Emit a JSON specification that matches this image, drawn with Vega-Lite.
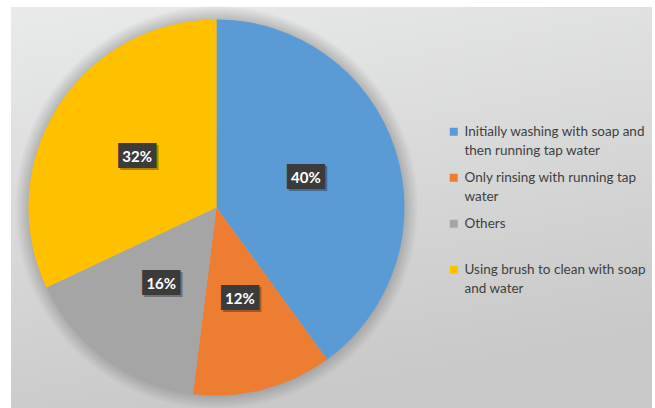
{
  "$schema": "https://vega.github.io/schema/vega-lite/v6.json",
  "width": 655,
  "height": 408,
  "autosize": {"type": "fit", "contains": "padding"},
  "padding": {"left": 11, "top": 7, "right": 3, "bottom": 0},
  "background": "white",
  "config": {
    "view": {"stroke": "#6f6f6f", "strokeWidth": 1.5},
    "style": {"guide-label": {"lineHeight": 19}}
  },
  "datasets": {
    "shares": [
      {"method": "Initially washing with soap and then running tap water", "share": 0.40},
      {"method": "Only rinsing with running tap water", "share": 0.12},
      {"method": "Others", "share": 0.16},
      {"method": "Using brush to clean with soap and water", "share": 0.32}
    ]
  },
  "layer": [
    {
      "data": {"values": [{"bg": 1}]},
      "mark": {
        "type": "rect",
        "fill": {"gradient": "linear", "x1": 0, "y1": 0, "x2": 0.3, "y2": 1,
          "stops": [{"offset": 0, "color": "#e9eaea"}, {"offset": 1, "color": "#c9c9c9"}]}
      },
      "encoding": {}
    },
    {
      "data": {"values": [{"shadow": 1}]},
      "mark": {
        "type": "arc",
        "outerRadius": 202,
        "x": {"expr": "width*0.3206"},
        "y": {"expr": "height/2"},
        "fill": {"gradient": "radial", "x1": 0.5, "y1": 0.5, "r1": 0, "x2": 0.5, "y2": 0.5, "r2": 0.5,
          "stops": [
            {"offset": 0, "color": "rgba(80,80,80,0.3)"},
            {"offset": 0.93, "color": "rgba(80,80,80,0.3)"},
            {"offset": 1, "color": "rgba(80,80,80,0)"}
          ]}
      },
      "encoding": {}
    },
    {
      "data": {"name": "shares"},
      "mark": {
        "type": "arc",
        "outerRadius": 188,
        "x": {"expr": "width*0.3206"},
        "y": {"expr": "height/2"}
      },
      "encoding": {
        "theta": {"field": "share", "type": "quantitative", "stack": true},
        "order": {"field": "method", "type": "ordinal"},
        "color": {
          "field": "method",
          "type": "nominal",
          "scale": {
            "domain": [
              "Initially washing with soap and then running tap water",
              "Only rinsing with running tap water",
              "Others",
              "Using brush to clean with soap and water"
            ],
            "range": ["#5b9bd5", "#ed7d31", "#a5a5a5", "#ffc000"]
          },
          "legend": {
            "title": null,
            "orient": "none",
            "legendX": 436,
            "legendY": 118,
            "padding": 0,
            "symbolType": "square",
            "symbolSize": 64,
            "symbolStrokeWidth": 0,
            "labelFont": "Lato",
            "labelFontSize": 13.5,
            "labelColor": "#404040",
            "labelLimit": 400,
            "labelOffset": 4,
            "gridAlign": "all",
            "rowPadding": 12,
            "labelExpr": "datum.label == 'Initially washing with soap and then running tap water' ? ['Initially washing with soap and', 'then running tap water'] : datum.label == 'Only rinsing with running tap water' ? ['Only rinsing with running tap', 'water'] : datum.label == 'Using brush to clean with soap and water' ? ['Using brush to clean with soap', 'and water'] : datum.label"
          }
        }
      }
    },
    {
      "data": {"name": "shares"},
      "mark": {
        "type": "text",
        "radius": 94,
        "x": {"expr": "width*0.3206"},
        "y": {"expr": "height/2"},
        "font": "DejaVu Sans Mono",
        "fontSize": 21,
        "baseline": "middle",
        "align": "center",
        "dx": 2,
        "dy": 2,
        "color": "#000000",
        "opacity": 0.3
      },
      "encoding": {
        "theta": {"field": "share", "type": "quantitative", "stack": true},
        "order": {"field": "method", "type": "ordinal"},
        "detail": {"field": "method"},
        "text": {"value": "███"}
      }
    },
    {
      "data": {"name": "shares"},
      "mark": {
        "type": "text",
        "radius": 94,
        "x": {"expr": "width*0.3206"},
        "y": {"expr": "height/2"},
        "font": "DejaVu Sans Mono",
        "fontSize": 21,
        "baseline": "middle",
        "align": "center",
        "color": "#3b3b3b"
      },
      "encoding": {
        "theta": {"field": "share", "type": "quantitative", "stack": true},
        "order": {"field": "method", "type": "ordinal"},
        "detail": {"field": "method"},
        "text": {"value": "███"}
      }
    },
    {
      "data": {"name": "shares"},
      "mark": {
        "type": "text",
        "radius": 94,
        "x": {"expr": "width*0.3206"},
        "y": {"expr": "height/2"},
        "font": "Lato",
        "fontSize": 15,
        "fontWeight": "bold",
        "baseline": "middle",
        "align": "center",
        "color": "#ffffff"
      },
      "encoding": {
        "theta": {"field": "share", "type": "quantitative", "stack": true},
        "order": {"field": "method", "type": "ordinal"},
        "detail": {"field": "method"},
        "text": {"field": "share", "type": "quantitative", "format": ".0%"}
      }
    }
  ]
}
